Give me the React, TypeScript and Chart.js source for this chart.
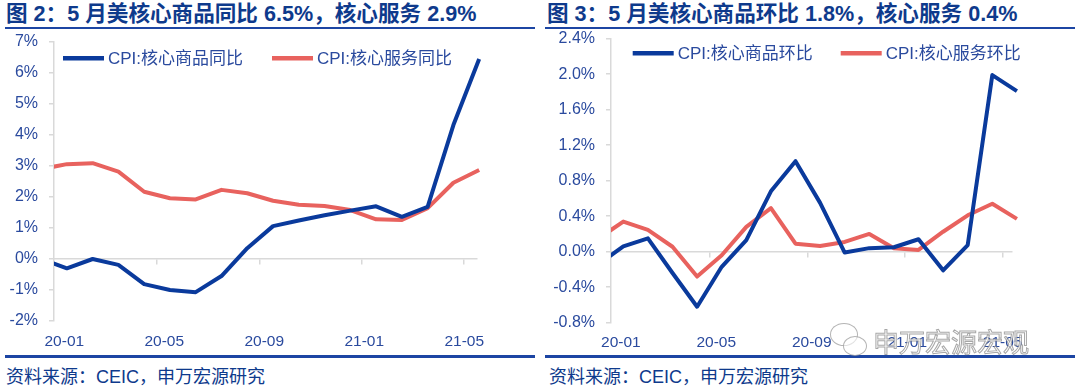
import React, { useEffect, useRef } from 'react';
import { Chart, registerables } from 'chart.js';

Chart.register(...registerables);

// ---------- data ----------
const months = ['19-12', '20-01', '20-02', '20-03', '20-04', '20-05', '20-06', '20-07', '20-08', '20-09', '20-10', '20-11', '20-12', '21-01', '21-02', '21-03', '21-04', '21-05'];

const goodsYoY = [0.0, -0.3, 0.0, -0.19, -0.81, -1.0, -1.07, -0.55, 0.35, 1.06, 1.24, 1.41, 1.56, 1.7, 1.36, 1.68, 4.32, 6.45];
const servicesYoY = [2.9, 3.06, 3.09, 2.82, 2.17, 1.96, 1.92, 2.23, 2.12, 1.88, 1.75, 1.71, 1.58, 1.28, 1.26, 1.64, 2.46, 2.87];

const goodsMoM = [-0.14, 0.06, 0.15, -0.24, -0.62, -0.17, 0.13, 0.68, 1.02, 0.55, -0.01, 0.04, 0.05, 0.14, -0.21, 0.075, 1.99, 1.81];
const servicesMoM = [0.15, 0.34, 0.245, 0.056, -0.28, -0.04, 0.28, 0.49, 0.09, 0.064, 0.11, 0.2, 0.04, 0.02, 0.225, 0.41, 0.54, 0.37];

const xTickLabels = ['20-01', '20-05', '20-09', '21-01', '21-05'];
const xLabelPos = [-0.1, 3.78, 7.66, 11.54, 15.42];
const xTickMarkPos = [3.5, 7.48, 11.45, 15.42];

const titleLeft = '图 2：5 月美核心商品同比 6.5%，核心服务 2.9%';
const titleRight = '图 3：5 月美核心商品环比 1.8%，核心服务 0.4%';
const sourceText = '资料来源：CEIC，申万宏源研究';

const FONT = '"Liberation Sans", "Noto Sans CJK SC", sans-serif';
const BLUE = '#0A3A9C';
const RED = '#E8625E';
const TEXT = '#2A4A9E';
const TITLE = '#0E3A8C';
const RULE = '#1C45A3';
const AXIS = '#D9D9D9';

const insideLegend = {
  id: 'insideLegend',
  afterDraw(chart: any, _args: any, opts: any) {
    const ctx = chart.ctx;
    ctx.save();
    chart.data.datasets.forEach((ds: any, i: number) => {
      const x = opts.xs[i];
      ctx.strokeStyle = ds.borderColor;
      ctx.lineWidth = 4.5;
      ctx.lineCap = 'butt';
      ctx.beginPath();
      ctx.moveTo(x, opts.y);
      ctx.lineTo(x + 41, opts.y);
      ctx.stroke();
      ctx.fillStyle = TEXT;
      ctx.font = `17px ${FONT}`;
      ctx.textBaseline = 'middle';
      ctx.textAlign = 'left';
      ctx.fillText(ds.label, x + 45, opts.y + 1);
    });
    ctx.restore();
  },
};

type Cfg = {
  labels: [string, string];
  a: number[];
  b: number[];
  yMin: number;
  yMax: number;
  yStep: number;
  yFmt: (v: number) => string;
  xMax: number;
  yWidth: number;
  padding: { top: number; right: number; bottom: number; left: number };
  legendY: number;
  legendXs: number[];
};

function makeConfig(c: Cfg): any {
  const pts = (arr: number[]) => months.map((_, i) => ({ x: i - 1, y: arr[i] }));
  const ds = (label: string, arr: number[], color: string) => ({
    label,
    data: pts(arr),
    borderColor: color,
    backgroundColor: color,
    borderWidth: 4,
    pointRadius: 0,
    tension: 0,
    borderJoinStyle: 'round',
    clip: { left: 0, top: 6, right: 8, bottom: 6 },
  });
  return {
    type: 'line',
    data: {
      datasets: [ds(c.labels[0], c.a, BLUE), ds(c.labels[1], c.b, RED)],
    },
    plugins: [insideLegend],
    options: {
      animation: false,
      responsive: false,
      parsing: false,
      normalized: true,
      layout: { padding: c.padding },
      plugins: {
        legend: { display: false },
        tooltip: { enabled: false },
        insideLegend: { y: c.legendY, xs: c.legendXs },
      },
      scales: {
        x: {
          type: 'linear',
          position: 'bottom',
          min: -0.5,
          max: c.xMax,
          grid: { display: false, drawTicks: false },
          border: { display: false },
          afterBuildTicks: (s: any) => {
            s.ticks = xLabelPos.map((v) => ({ value: v }));
          },
          afterFit: (s: any) => {
            s.height = 29;
            s.paddingLeft = 0;
            s.paddingRight = 0;
          },
          ticks: {
            autoSkip: false,
            maxRotation: 0,
            padding: 11,
            color: TEXT,
            font: { family: FONT, size: 15.5 },
            callback: (_v: any, i: number) => xTickLabels[i],
          },
        },
        x2: {
          type: 'linear',
          axis: 'x',
          position: { y: 0 },
          min: -0.5,
          max: c.xMax,
          afterBuildTicks: (s: any) => {
            s.ticks = xTickMarkPos.map((v) => ({ value: v }));
          },
          afterFit: (s: any) => {
            s.paddingLeft = 0;
            s.paddingRight = 0;
          },
          grid: { drawOnChartArea: false, drawTicks: true, tickLength: 5, color: AXIS, lineWidth: 1.5 },
          border: { display: true, color: AXIS, width: 1.5 },
          ticks: { display: false },
        },
        y: {
          type: 'linear',
          min: c.yMin,
          max: c.yMax,
          afterFit: (s: any) => {
            s.width = c.yWidth;
            s.paddingTop = 0;
            s.paddingBottom = 0;
          },
          grid: { drawOnChartArea: false, drawTicks: true, tickLength: 5, color: AXIS, lineWidth: 1.5 },
          border: { display: true, color: AXIS, width: 1.5 },
          ticks: {
            stepSize: c.yStep,
            padding: 11,
            color: TEXT,
            font: { family: FONT, size: 16 },
            callback: (v: any) => c.yFmt(Number(v)),
          },
        },
      },
    },
  };
}

function LineChart({ cfg, style }: { cfg: Cfg; style: React.CSSProperties }) {
  const ref = useRef<HTMLCanvasElement | null>(null);
  useEffect(() => {
    if (!ref.current) return;
    const chart = new Chart(ref.current, makeConfig(cfg));
    return () => chart.destroy();
  }, []);
  const w = Number(style.width);
  const h = Number(style.height);
  return <canvas ref={ref} width={w} height={h} style={{ position: 'absolute', ...style }} />;
}

const leftCfg: Cfg = {
  labels: ['CPI:核心商品同比', 'CPI:核心服务同比'],
  a: goodsYoY,
  b: servicesYoY,
  yMin: -2,
  yMax: 7,
  yStep: 1,
  yFmt: (v) => `${Math.round(v)}%`,
  xMax: 15.92,
  yWidth: 54,
  padding: { top: 12, right: 62.9, bottom: 2, left: 0 },
  legendY: 28.3,
  legendXs: [63, 272],
};

const rightCfg: Cfg = {
  labels: ['CPI:核心商品环比', 'CPI:核心服务环比'],
  a: goodsMoM,
  b: servicesMoM,
  yMin: -0.8,
  yMax: 2.4,
  yStep: 0.4,
  yFmt: (v) => {
    const r = Math.round(v * 10) / 10;
    return `${(r === 0 ? 0 : r).toFixed(1)}%`;
  },
  xMax: 15.8,
  yWidth: 71,
  padding: { top: 10.7, right: 68, bottom: 0.3, left: 0 },
  legendY: 25.3,
  legendXs: [92.7, 300.7],
};

const abs = (s: React.CSSProperties): React.CSSProperties => ({ position: 'absolute', ...s });

export default function App() {
  const titleStyle: React.CSSProperties = {
    fontFamily: FONT,
    fontWeight: 'bold',
    fontSize: 21.6,
    lineHeight: '22px',
    color: TITLE,
    whiteSpace: 'nowrap',
  };
  const srcStyle: React.CSSProperties = {
    fontFamily: FONT,
    fontSize: 18,
    lineHeight: '18px',
    color: TITLE,
    whiteSpace: 'nowrap',
  };
  return (
    <div style={{ position: 'fixed', left: 0, top: 0, width: 1080, height: 392, background: '#fff', overflow: 'hidden' }}>
      <div style={abs({ left: 6, top: 3, ...titleStyle })}>{titleLeft}</div>
      <div style={abs({ left: 547, top: 3, ...titleStyle })}>{titleRight}</div>
      <div style={abs({ left: 5, top: 27, width: 530, height: 2, background: RULE })} />
      <div style={abs({ left: 545, top: 27, width: 530, height: 2, background: RULE })} />

      <LineChart cfg={leftCfg} style={{ left: 0, top: 30, width: 540, height: 322 }} />
      <LineChart cfg={rightCfg} style={{ left: 540, top: 28, width: 540, height: 324 }} />

      <div style={abs({ left: 5, top: 355, width: 530, height: 2.5, background: RULE })} />
      <div style={abs({ left: 545, top: 355, width: 530, height: 2.5, background: RULE })} />
      <div style={abs({ left: 6, top: 368, ...srcStyle })}>{sourceText}</div>
      <div style={abs({ left: 549, top: 368, ...srcStyle })}>{sourceText}</div>

      {/* watermark */}
      <div style={abs({ left: 830, top: 323, width: 26, height: 21, borderRadius: '50%', border: '1.5px solid rgba(130,130,130,0.6)', background: 'rgba(255,255,255,0.6)' })} />
      <div style={abs({ left: 843, top: 336, width: 22, height: 18, borderRadius: '50%', border: '1.5px solid rgba(130,130,130,0.6)', background: 'rgba(255,255,255,0.6)' })} />
      <div
        style={abs({
          left: 873,
          top: 330,
          fontFamily: FONT,
          fontSize: 26,
          lineHeight: '26px',
          color: 'rgba(255,255,255,0.75)',
          WebkitTextStroke: '1px rgba(120,120,120,0.65)',
          whiteSpace: 'nowrap',
        } as React.CSSProperties)}
      >
        申万宏源宏观
      </div>
    </div>
  );
}
